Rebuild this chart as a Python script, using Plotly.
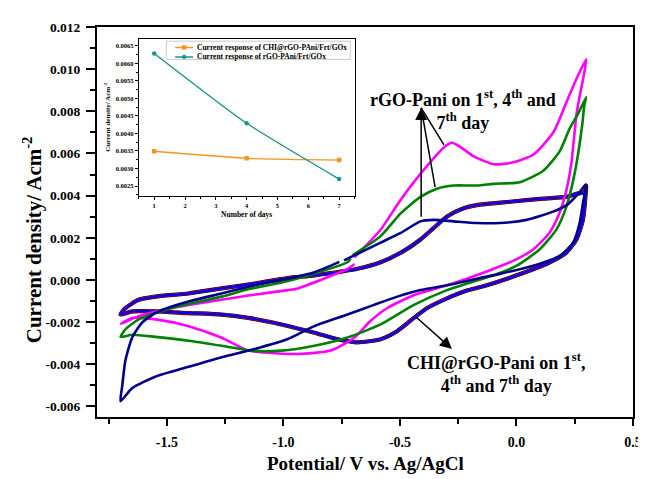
import plotly.graph_objects as go

SERIF = "Liberation Serif, Times New Roman, serif"

# ---------------- main CV data (potential V, current density A cm^-2) ----------------
# rGO-Pani, 1st day (magenta)
rgo_day1_E = [-0.695, -0.584, -0.499, -0.413, -0.307, -0.277, -0.243, -0.183, -0.097, -0.012, 0.073, 0.159, 0.214, 0.257, 0.299,
              0.291, 0.269, 0.257, 0.235, 0.214, 0.184, 0.141, 0.073, 0.001, -0.097, -0.213, -0.298, -0.439, -0.554, -0.627,
              -0.695, -0.797, -0.938, -1.079, -1.151, -1.267, -1.407, -1.548, -1.649, -1.698,
              -1.621, -1.480, -1.267, -1.151, -0.981, -0.938, -0.725, -0.695]
rgo_day1_J = [0.00108, 0.00237, 0.00377, 0.00502, 0.00633, 0.00651, 0.00633, 0.00586, 0.00549, 0.00558, 0.00595, 0.00702, 0.00842, 0.00953, 0.01047,
              0.00983, 0.00860, 0.00781, 0.00549, 0.00425, 0.00316, 0.00223, 0.00146, 0.00099, 0.00053, 0.00006, -0.00025, -0.00071, -0.00133, -0.00195,
              -0.00273, -0.00335, -0.00351, -0.00344, -0.00335, -0.00273, -0.00219, -0.00187, -0.00180, -0.00208,
              -0.00172, -0.00133, -0.00094, -0.00074, -0.00048, -0.00040, 0.00053, 0.00076]

# rGO-Pani, 4th day (green)
rgo_day4_E = [-0.703, -0.583, -0.497, -0.412, -0.341, -0.270, -0.170, -0.099, 0.015, 0.115, 0.186, 0.229, 0.265, 0.299,
              0.291, 0.282, 0.257, 0.240, 0.214, 0.171, 0.100, 0.001, -0.099, -0.213, -0.298, -0.440, -0.583, -0.725, -0.867, -1.009,
              -1.140, -1.265, -1.407, -1.550, -1.649, -1.699,
              -1.678, -1.621, -1.479, -1.265, -1.151, -0.981, -0.725, -0.712]
rgo_day4_J = [0.00118, 0.00208, 0.00316, 0.00394, 0.00433, 0.00448, 0.00448, 0.00456, 0.00464, 0.00518, 0.00611, 0.00720, 0.00790, 0.00867,
              0.00828, 0.00735, 0.00549, 0.00456, 0.00347, 0.00239, 0.00146, 0.00068, 0.00022, -0.00017, -0.00048, -0.00118, -0.00211, -0.00273, -0.00312, -0.00335,
              -0.00335, -0.00312, -0.00288, -0.00270, -0.00260, -0.00270,
              -0.00234, -0.00187, -0.00133, -0.00079, -0.00044, -0.00005, 0.00084, 0.00102]

# rGO-Pani, 7th day (navy)
rgo_day7_E = [-0.740, -0.583, -0.497, -0.412, -0.355, -0.270, -0.170, -0.071, 0.043, 0.157, 0.221, 0.271, 0.297,
              0.285, 0.271, 0.243, 0.186, 0.072, -0.071, -0.170, -0.298, -0.412, -0.511,
              -0.611, -0.725, -0.867, -0.981, -1.123, -1.265, -1.407, -1.550, -1.649, -1.699,
              -1.692, -1.678, -1.649, -1.607, -1.550, -1.479, -1.407, -1.265, -1.123, -0.981, -0.867, -0.760]
rgo_day7_J = [0.00093, 0.00177, 0.00223, 0.00278, 0.00285, 0.00278, 0.00270, 0.00270, 0.00285, 0.00324, 0.00360, 0.00417, 0.00453,
              0.00363, 0.00270, 0.00177, 0.00115, 0.00068, 0.00029, 0.00006, -0.00025, -0.00048, -0.00079,
              -0.00118, -0.00164, -0.00219, -0.00280, -0.00327, -0.00366, -0.00412, -0.00459, -0.00513, -0.00575,
              -0.00505, -0.00381, -0.00273, -0.00203, -0.00157, -0.00126, -0.00102, -0.00064, -0.00025, 0.00006, 0.00037, 0.00086]

# CHI@rGO-Pani, 1st / 4th / 7th day (black, red, blue - nearly identical)
chi_E = [-1.699, -1.678, -1.621, -1.550, -1.407, -1.265, -1.123, -0.981, -0.867, -0.682, -0.583, -0.483, -0.412, -0.355, -0.298,
         -0.227, -0.170, -0.028, 0.114, 0.214, 0.257, 0.292, 0.299,
         0.285, 0.257, 0.214, 0.143, 0.001, -0.142, -0.213, -0.298, -0.383, -0.440, -0.511, -0.583, -0.682, -0.767, -0.867,
         -1.009, -1.151, -1.265, -1.407, -1.550, -1.649, -1.699]
chi_J = [-0.00164, -0.00133, -0.00094, -0.00079, -0.00064, -0.00040, -0.00017, 0.00009, 0.00022, 0.00053, 0.00084, 0.00138, 0.00192, 0.00247, 0.00301,
         0.00340, 0.00355, 0.00371, 0.00386, 0.00394, 0.00409, 0.00417, 0.00448,
         0.00285, 0.00192, 0.00130, 0.00084, 0.00022, -0.00030, -0.00050, -0.00087, -0.00133, -0.00180, -0.00242, -0.00281, -0.00296, -0.00281, -0.00250,
         -0.00211, -0.00180, -0.00164, -0.00157, -0.00149, -0.00149, -0.00164]

# ---------------- inset data ----------------
days = [1, 4, 7]
chi_response = [0.00349, 0.00329, 0.00324]
rgo_response = [0.00628, 0.00429, 0.00270]
inset_names = ["Current response of CHI@rGO-PAni/Frt/GOx", "Current response of rGO-PAni/Frt/GOx"]

# ---------------- tick labels ----------------
x_tick_vals = [-1.5, -1.0, -0.5, 0.0, 0.5]
x_tick_text = ["-1.5", "-1.0", "-0.5", "0.0", "0.5"]
y_tick_vals = [-0.006, -0.004, -0.002, 0.0, 0.002, 0.004, 0.006, 0.008, 0.010, 0.012]
y_tick_text = ["-0.006", "-0.004", "-0.002", "0.000", "0.002", "0.004", "0.006", "0.008", "0.010", "0.012"]

fig = go.Figure()

def cv(E, J, color, width):
    fig.add_trace(go.Scatter(x=E, y=J, mode="lines", showlegend=False, hoverinfo="skip",
                             line=dict(color=color, width=width, shape="spline", smoothing=0.6)))

cv(chi_E, chi_J, "#000000", 4.2)
cv(chi_E, chi_J, "#E00000", 3.2)
cv(chi_E, chi_J, "#0000FF", 2.4)
cv(rgo_day1_E, rgo_day1_J, "#FF00FF", 2.6)
cv(rgo_day4_E, rgo_day4_J, "#008000", 2.6)
cv(rgo_day7_E, rgo_day7_J, "#00008B", 2.6)

# inset traces
fig.add_trace(go.Scatter(x=days, y=chi_response, xaxis="x2", yaxis="y2", mode="lines+markers",
                         name=inset_names[0], showlegend=False,
                         line=dict(color="#F7931E", width=1.4, shape="spline", smoothing=0.6),
                         marker=dict(symbol="square", size=4.5, color="#F7931E")))
fig.add_trace(go.Scatter(x=days, y=rgo_response, xaxis="x2", yaxis="y2", mode="lines+markers",
                         name=inset_names[1], showlegend=False,
                         line=dict(color="#18958B", width=1.4, shape="spline", smoothing=0.6),
                         marker=dict(symbol="circle", size=4.5, color="#18958B")))

bold = dict(family=SERIF, weight="bold", color="black")

annotations = [
    # axis titles
    dict(text="Potential/ V vs. Ag/AgCl", xref="paper", yref="paper", x=0.5, y=-0.118,
         showarrow=False, font=dict(size=19, **bold), xanchor="center", yanchor="middle"),
    dict(text="Current density/ Acm<sup>-2</sup>", xref="paper", yref="paper", x=-0.12, y=0.455,
         textangle=-90, showarrow=False, font=dict(size=21, **bold), xanchor="center", yanchor="middle"),
    # label texts
    dict(text="rGO-Pani on 1<sup>st</sup>, 4<sup>th</sup> and<br>7<sup>th</sup> day", x=-0.23, y=0.00808,
         xref="x", yref="y", showarrow=False, font=dict(size=18, **bold)),
    dict(text="CHI@rGO-Pani on 1<sup>st</sup>,<br>4<sup>th</sup> and 7<sup>th</sup> day", x=-0.089, y=-0.00440,
         xref="x", yref="y", showarrow=False, font=dict(size=18, **bold)),
    # arrows
    dict(text="", x=-0.409, y=0.00816, ax=-0.409, ay=0.00293, xref="x", yref="y", axref="x", ayref="y",
         showarrow=True, arrowhead=2, arrowsize=1.6, arrowwidth=1.5, arrowcolor="black"),
    dict(text="", x=-0.409, y=0.00816, ax=-0.307, ay=0.00634, xref="x", yref="y", axref="x", ayref="y",
         showarrow=True, arrowhead=0, arrowwidth=1.5, arrowcolor="black"),
    dict(text="", x=-0.409, y=0.00816, ax=-0.348, ay=0.00433, xref="x", yref="y", axref="x", ayref="y",
         showarrow=True, arrowhead=0, arrowwidth=1.5, arrowcolor="black"),
    dict(text="", x=-0.277, y=-0.00327, ax=-0.435, ay=-0.00172, xref="x", yref="y", axref="x", ayref="y",
         showarrow=True, arrowhead=2, arrowsize=1.6, arrowwidth=1.5, arrowcolor="black"),
    # inset legend text
    dict(text=inset_names[0], x=2.32, y=0.00645, xref="x2", yref="y2", xanchor="left", yanchor="middle",
         showarrow=False, font=dict(size=7.5, **bold)),
    dict(text=inset_names[1], x=2.32, y=0.00618, xref="x2", yref="y2", xanchor="left", yanchor="middle",
         showarrow=False, font=dict(size=7.5, **bold)),
]

shapes = [
    # inset legend box
    dict(type="rect", xref="x2", yref="y2", x0=1.39, x1=7.36, y0=0.00611, y1=0.00663,
         line=dict(color="#BBBBBB", width=0.8), fillcolor="white", layer="below"),
    dict(type="line", xref="x2", yref="y2", x0=1.68, x1=2.26, y0=0.00645, y1=0.00645,
         line=dict(color="#F7931E", width=1.4)),
    dict(type="rect", xref="x2", yref="y2", x0=1.90, x1=2.04, y0=0.00639, y1=0.00651,
         line=dict(width=0), fillcolor="#F7931E"),
    dict(type="line", xref="x2", yref="y2", x0=1.68, x1=2.26, y0=0.00618, y1=0.00618,
         line=dict(color="#18958B", width=1.4)),
    dict(type="circle", xref="x2", yref="y2", x0=1.90, x1=2.04, y0=0.00612, y1=0.00624,
         line=dict(width=0), fillcolor="#18958B"),
]

# the page adds an 8 px body margin, so the figure margins are offset to compensate
fig.update_layout(
    width=646, height=479,
    margin=dict(l=89, r=17, t=12, b=70),
    plot_bgcolor="white", paper_bgcolor="white",
    showlegend=False,
    xaxis=dict(range=[-1.8, 0.5], tickvals=x_tick_vals, ticktext=x_tick_text,
               ticks="outside", ticklen=7, tickwidth=2, tickcolor="black",
               showline=True, linewidth=2, linecolor="black", mirror=True,
               showgrid=False, zeroline=False, ticklabelstandoff=4,
               tickfont=dict(size=14, **bold),
               minor=dict(dtick=0.25, tick0=0, ticks="outside", ticklen=5, tickwidth=2, tickcolor="black")),
    yaxis=dict(range=[-0.0065, 0.012], tickvals=y_tick_vals, ticktext=y_tick_text,
               ticks="outside", ticklen=9, tickwidth=2, tickcolor="black",
               showline=True, linewidth=2, linecolor="black", mirror=True,
               showgrid=False, zeroline=False, ticklabelstandoff=3,
               tickfont=dict(size=13.5, **bold),
               minor=dict(dtick=0.001, tick0=0, ticks="outside", ticklen=5, tickwidth=2, tickcolor="black")),
    xaxis2=dict(domain=[0.078, 0.4805], anchor="y2", range=[0.5, 7.5], dtick=1, tick0=0,
                ticks="outside", ticklen=3, tickwidth=1, tickcolor="black",
                showline=True, linewidth=1, linecolor="black", mirror=True,
                showgrid=False, zeroline=False, tickfont=dict(size=6.5, **bold),
                title=dict(text="Number of days", font=dict(size=7.5, **bold), standoff=4),
                minor=dict(dtick=0.5, tick0=0, ticks="outside", ticklen=2, tickwidth=1, tickcolor="black")),
    yaxis2=dict(domain=[0.567, 0.970], anchor="x2", range=[0.00222, 0.0067], dtick=0.0005, tick0=0,
                tickformat=".4f", ticks="outside", ticklen=3, tickwidth=1, tickcolor="black",
                showline=True, linewidth=1, linecolor="black", mirror=True,
                showgrid=False, zeroline=False, tickfont=dict(size=6.5, **bold),
                title=dict(text="Current density/ Acm<sup>-2</sup>", font=dict(size=7, **bold), standoff=4),
                minor=dict(dtick=0.00025, tick0=0, ticks="outside", ticklen=2, tickwidth=1, tickcolor="black")),
    annotations=annotations,
    shapes=shapes,
)

fig.write_html("out.html")
